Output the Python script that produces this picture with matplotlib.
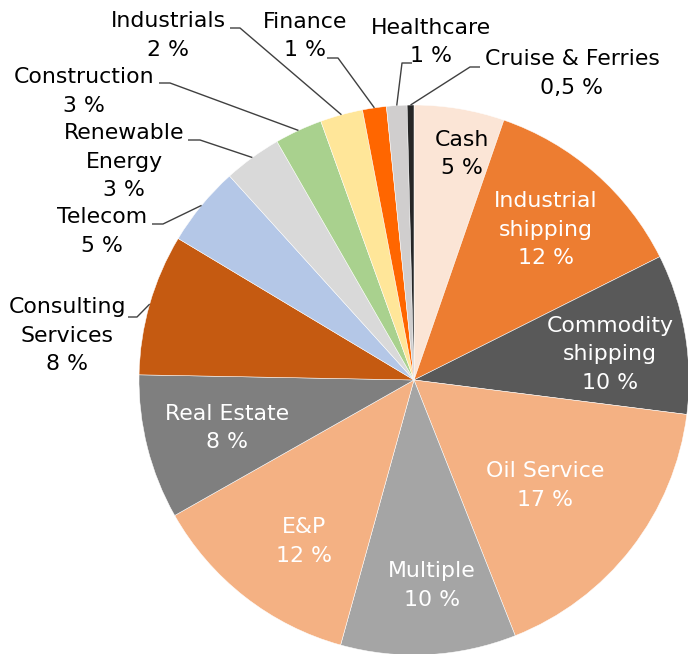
import matplotlib
matplotlib.use("Agg")
import matplotlib.pyplot as plt
import numpy as np

# ---- data ----
categories = ["Cash", "Industrial\nshipping", "Commodity\nshipping", "Oil Service",
              "Multiple", "E&P", "Real Estate", "Consulting\nServices", "Telecom",
              "Renewable\nEnergy", "Construction", "Industrials", "Finance",
              "Healthcare", "Cruise & Ferries"]
values = [5.3, 12.3, 9.4, 17.0, 10.3, 12.5, 8.5, 8.3, 4.7, 3.4, 2.8, 2.5, 1.4, 1.2, 0.4]
pct_labels = ["5 %", "12 %", "10 %", "17 %", "10 %", "12 %", "8 %", "8 %", "5 %",
              "3 %", "3 %", "2 %", "1 %", "1 %", "0,5 %"]
colors = ["#FBE5D6", "#ED7D31", "#595959", "#F4B183", "#A5A5A5", "#F4B183",
          "#7F7F7F", "#C55A11", "#B4C7E7", "#D9D9D9", "#A9D18E", "#FFE699",
          "#FF6600", "#D0CECE", "#262626"]

# ---- layout (pixel coordinates, y from top) ----
W, H = 688, 654
CX, CY, R = 414, 380, 275
label_pos = [(462, 140), (546, 201), (610, 326), (545, 471), (432, 571), (304, 527),
             (227, 414), (67, 307), (102, 217), (124, 133), (84, 77), (168, 21),
             (305, 22), (431, 28), (572, 59)]
text_colors = ["black", "white", "white", "white", "white", "white", "white",
               "black", "black", "black", "black", "black", "black", "black", "black"]
# leader lines: index -> (label-side x, elbow x, y)
leaders = {7: (128, 137, 317), 8: (152, 163, 224), 9: (188, 200, 140),
           10: (159, 170, 83), 11: (230, 240, 28), 12: (327, 338, 58),
           13: (412, 402, 63), 14: (480, 470, 67)}
PITCH = 28.5
FS = 15.8

fig = plt.figure(figsize=(W / 100, H / 100), dpi=100)
ax = fig.add_axes([0, 0, 1, 1])
wedges, _ = ax.pie(values, colors=colors, startangle=90, counterclock=False,
                   center=(CX, H - CY), radius=R,
                   wedgeprops=dict(edgecolor="white", linewidth=0.35))
ax.set_xlim(0, W)
ax.set_ylim(0, H)
ax.set_aspect("auto")
ax.axis("off")

for i, (cat, pct) in enumerate(zip(categories, pct_labels)):
    lines = cat.split("\n") + [pct]
    x, y0 = label_pos[i]
    for k, ln in enumerate(lines):
        ax.text(x, H - (y0 + k * PITCH), ln, ha="center", va="center",
                fontsize=FS, color=text_colors[i], family="DejaVu Sans")

for i, (x0, x1, y) in leaders.items():
    w = wedges[i]
    mid = np.deg2rad((w.theta1 + w.theta2) / 2)
    ex = CX + R * np.cos(mid)
    ey = (H - CY) + R * np.sin(mid)
    ax.plot([x0, x1, ex], [H - y, H - y, ey], color="#404040", lw=1.0,
            solid_capstyle="butt", zorder=5)

fig.savefig("out.png", dpi=100)
